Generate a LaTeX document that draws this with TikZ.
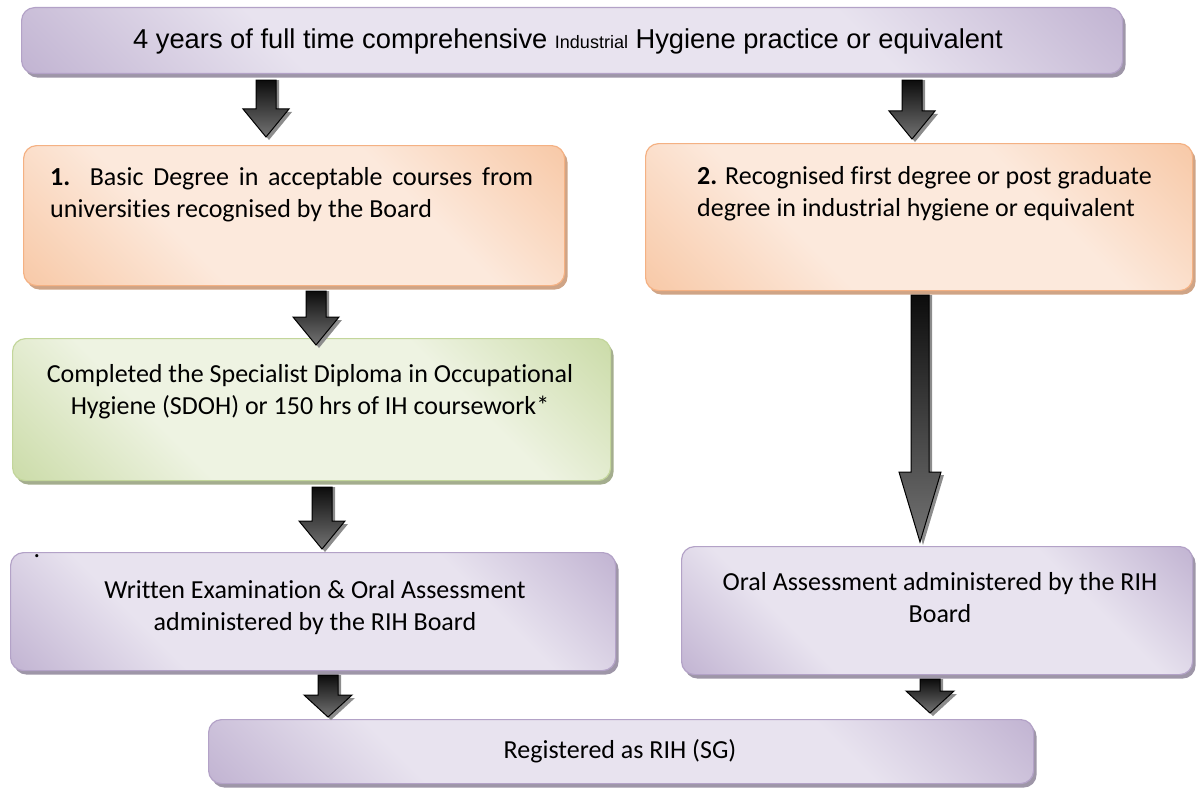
\documentclass[tikz,border=0pt]{standalone}
\usepackage{fontspec}
\setmainfont[Ligatures=NoCommon]{Carlito}
\newfontfamily\arialf{Liberation Sans}
\usetikzlibrary{calc,shadows}
\definecolor{purD}{HTML}{B3A2C7}
\definecolor{purL}{HTML}{E8E3EF}
\definecolor{purS}{HTML}{9E96A8}
\definecolor{oraD}{HTML}{F7C29C}
\definecolor{oraL}{HTML}{FCE9DC}
\definecolor{oraS}{HTML}{CFA486}
\definecolor{oraB}{HTML}{F4B183}
\definecolor{grnD}{HTML}{C3D69B}
\definecolor{grnL}{HTML}{EEF3E2}
\definecolor{grnS}{HTML}{A4AD8E}
\pgfdeclareverticalshading{purshade}{100bp}{color(0bp)=(purD); color(8bp)=(purD); color(32bp)=(purL); color(68bp)=(purL); color(92bp)=(purD); color(100bp)=(purD)}
\pgfdeclareverticalshading{orashade}{100bp}{color(0bp)=(oraD); color(10bp)=(oraD); color(36bp)=(oraL); color(64bp)=(oraL); color(90bp)=(oraD); color(100bp)=(oraD)}
\pgfdeclareverticalshading{grnshade}{100bp}{color(0bp)=(grnD); color(10bp)=(grnD); color(34bp)=(grnL); color(66bp)=(grnL); color(90bp)=(grnD); color(100bp)=(grnD)}
\newcommand{\blockarrow}[8]{% x, from, to, gap1, gap2, shaft half, head half, head length
  \coordinate (A) at ($(#2.south -| #1,0)+(0,#4)$);
  \coordinate (B) at ($(#3.north -| #1,0)+(0,{-1*(#5)})$);
  \fill[black!45] ($(A)+({-#6+3},0)$) -- ($(A)+({#6+3},0)$) -- ($(B)+({#6+3},{-#8+3})$) -- ($(B)+({#7+3},{-#8+3})$) -- ($(B)+(3,3)$) -- ($(B)+({-#7+3},{-#8+3})$) -- ($(B)+({-#6+3},{-#8+3})$) -- cycle;
  \draw[arrowbody] ($(A)+({-#6},0)$) -- ($(A)+({#6},0)$) -- ($(B)+({#6},{-#8})$) -- ($(B)+({#7},{-#8})$) -- (B) -- ($(B)+({-#7},{-#8})$) -- ($(B)+({-#6},{-#8})$) -- cycle;
}
\begin{document}
\begin{tikzpicture}[x=1pt,y=-1pt,
  boxbase/.style={rounded corners=13pt, line width=1.2pt, inner sep=0pt, anchor=north west},
  purbox/.style={boxbase, draw=purD, shade, shading=purshade, shading angle=-45,
     drop shadow={shadow xshift=3pt, shadow yshift=-4pt, fill=purS, opacity=1}},
  orabox/.style={boxbase, draw=oraB, shade, shading=orashade, shading angle=-45,
     drop shadow={shadow xshift=3pt, shadow yshift=-4pt, fill=oraS, opacity=1}},
  grnbox/.style={boxbase, draw=grnD, shade, shading=grnshade, shading angle=-45,
     drop shadow={shadow xshift=3pt, shadow yshift=-4pt, fill=grnS, opacity=1}},
  txt/.style={inner sep=0pt, font=\fontsize{26}{32.5}\selectfont},
  arrowbody/.style={draw=black, line width=1pt, top color=black!95, bottom color=black!55, line join=miter}
]
\useasboundingbox (0,0) rectangle (1196,789);
% boxes
\node[purbox, minimum width=1101pt, minimum height=66pt] (top) at (21,7) {};
\node[orabox, minimum width=541pt, minimum height=140pt] (b1) at (23,145) {};
\node[orabox, minimum width=547pt, minimum height=147pt] (b2) at (645,143) {};
\node[grnbox, minimum width=598pt, minimum height=142pt] (g) at (12,338) {};
\node[purbox, minimum width=605pt, minimum height=118pt] (w) at (10,552) {};
\node[purbox, minimum width=511pt, minimum height=128pt] (o) at (681,546) {};
\node[purbox, minimum width=825pt, minimum height=64pt] (r) at (208,719) {};
% texts
\node[inner sep=0pt, font=\arialf\fontsize{27.3}{30}\selectfont, anchor=base] (topt) at (568,49)
  {4 years of full time comprehensive {\fontsize{18}{20}\selectfont Industrial} Hygiene practice or equivalent};
\node[txt, text width=483pt, align=justify, anchor=north west] (b1t) at (50,167)
  {\textbf{1.} Basic Degree in acceptable courses from universities recognised by the Board};
\node[txt, align=left, anchor=north west] (b2t) at (697,166)
  {\textbf{2.} Recognised first degree or post graduate\\degree in industrial hygiene or equivalent};
\node[txt, align=center, anchor=north] (gt) at (310,364)
  {Completed the Specialist Diploma in Occupational\\Hygiene (SDOH) or 150 hrs of IH coursework*};
\node[txt, align=center, anchor=north] (wt) at (315,580)
  {Written Examination \& Oral Assessment\\administered by the RIH Board};
\node[txt, align=center, anchor=north] (ot) at (940,572)
  {Oral Assessment administered by the RIH\\Board};
\node[txt, anchor=base] (rt) at (620,758) {Registered as RIH (SG)};
\node[txt, anchor=base] (dot) at (37,557) {.};
% arrows
\blockarrow{266}{top}{b1}{6}{8}{10}{23}{28}
\blockarrow{912}{top}{b2}{6}{4}{10}{23}{28}
\blockarrow{316}{b1}{g}{5}{-7}{10}{23}{28}
\blockarrow{322}{g}{w}{6}{3}{10}{23}{28}
\blockarrow{920}{b2}{o}{4}{4}{9}{21}{70}
\blockarrow{328}{w}{r}{4}{2}{10}{24}{22}
\blockarrow{930}{o}{r}{4}{6}{10}{24}{22}
\end{tikzpicture}
\end{document}
